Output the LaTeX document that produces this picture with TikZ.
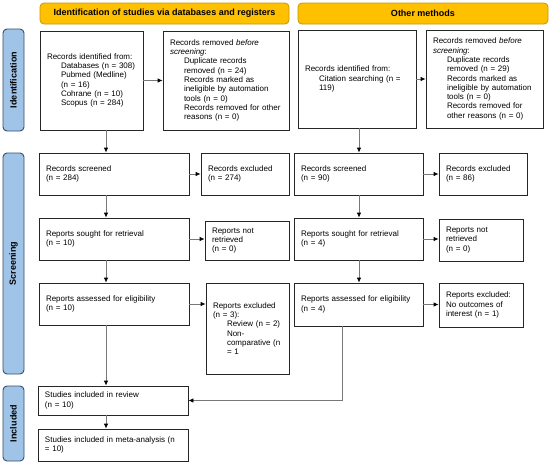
\documentclass[tikz,border=0pt]{standalone}
\usepackage{fontspec}
\setmainfont{Liberation Sans}
\usetikzlibrary{arrows.meta}
\definecolor{headfill}{RGB}{255,192,0}
\definecolor{headdraw}{RGB}{200,150,0}
\definecolor{sidefill}{RGB}{160,196,232}
\definecolor{sidedraw}{RGB}{52,78,108}
\definecolor{lineclr}{RGB}{120,120,120}
\newcommand{\myind}{\hspace*{14pt}}
\begin{document}
\begin{tikzpicture}[x=1pt,y=-1pt,
  box/.style={draw=black!85, line width=0.8pt, align=left, inner xsep=7pt, inner ysep=2pt,
    font=\fontsize{8}{9.3}\selectfont},
  head/.style={draw=headdraw, fill=headfill, line width=0.8pt, rounded corners=4pt,
    font=\fontsize{9}{10}\selectfont\bfseries, inner sep=0pt},
  side/.style={draw=sidedraw, fill=sidefill, line width=0.9pt, rounded corners=4pt, rotate=90,
    font=\fontsize{9}{10}\selectfont\bfseries, inner sep=0pt},
  conn/.style={draw=lineclr, line width=0.8pt, -{Latex[length=5pt,width=4.5pt,color=black]}}]
\useasboundingbox (0,0) rectangle (550,464);

% headers
\node[head, minimum width=249pt, minimum height=21pt] (HL) at (164.5,13.5) {Identification of studies via databases and registers};
\node[head, minimum width=250pt, minimum height=21pt] (HR) at (423,13.5) {Other methods};

% side labels
\node[side, minimum width=102pt, minimum height=21pt] (S1) at (13.5,80) {Identification};
\node[side, minimum width=221pt, minimum height=21pt] (S2) at (13.5,263.5) {Screening};
\node[side, minimum width=75pt, minimum height=21pt] (S3) at (13.5,423.5) {Included};

% identification
\node[box, minimum width=103pt, minimum height=99pt, text width=89pt] (A1) at (91.5,80.5)
  {Records identified from:\\ \myind Databases (n = 308)\\ \myind Pubmed (Medline)\\ \myind (n = 16)\\ \myind Cohrane (n = 10)\\ \myind Scopus (n = 284)};
\node[box, minimum width=126pt, minimum height=99pt, text width=112pt] (A2) at (226,80.5)
  {Records removed \textit{before}\\ \textit{screening}:\\ \myind Duplicate records\\ \myind removed (n = 24)\\ \myind Records marked as\\ \myind ineligible by automation\\ \myind tools (n = 0)\\ \myind Records removed for other\\ \myind reasons (n = 0)};
\node[box, minimum width=118pt, minimum height=98pt, text width=104pt] (B1) at (357,79)
  {Records identified from:\\ \myind Citation searching (n =\\ \myind 119)};
\node[box, minimum width=117pt, minimum height=98pt, text width=103pt] (B2) at (484.5,79)
  {Records removed \textit{before}\\ \textit{screening}:\\ \myind Duplicate records\\ \myind removed (n = 29)\\ \myind Records marked as\\ \myind ineligible by automation\\ \myind tools (n = 0)\\ \myind Records removed for\\ \myind other reasons (n = 0)};

% screening
\node[box, minimum width=150pt, minimum height=42pt, text width=136pt] (C1) at (114,174) {Records screened\\ (n = 284)};
\node[box, minimum width=88pt, minimum height=42pt, text width=74pt] (C2) at (245,174) {Records excluded\\ (n = 274)};
\node[box, minimum width=129pt, minimum height=42pt, text width=115pt] (D1) at (358.5,174) {Records screened\\ (n = 90)};
\node[box, minimum width=88pt, minimum height=42pt, text width=74pt] (D2) at (483,174) {Records excluded\\ (n = 86)};

\node[box, minimum width=150pt, minimum height=42pt, text width=136pt] (E1) at (114,239) {Reports sought for retrieval\\ (n = 10)};
\node[box, minimum width=84pt, minimum height=39pt, text width=70pt] (E2) at (247,240.5) {Reports not\\ retrieved\\ (n = 0)};
\node[box, minimum width=129pt, minimum height=42pt, text width=115pt] (F1) at (358.5,239) {Reports sought for retrieval\\ (n = 4)};
\node[box, minimum width=84pt, minimum height=42pt, text width=70pt] (F2) at (481,240) {Reports not\\ retrieved\\ (n = 0)};

\node[box, minimum width=150pt, minimum height=42pt, text width=136pt] (G1) at (114,304) {Reports assessed for eligibility\\ (n = 10)};
\node[box, minimum width=83pt, minimum height=91pt, text width=69pt] (G2) at (247.5,328.5)
  {Reports excluded\\ (n = 3):\\ \myind Review (n = 2)\\ \myind Non-\\ \myind comparative (n\\ \myind = 1};
\node[box, minimum width=129pt, minimum height=43pt, text width=115pt] (H1) at (358.5,304.5) {Reports assessed for eligibility\\ (n = 4)};
\node[box, minimum width=84pt, minimum height=44pt, text width=70pt] (H2) at (481,305) {Reports excluded:\\ No outcomes of\\ interest (n = 1)};

% included
\node[box, minimum width=150pt, minimum height=29pt, text width=136pt] (I1) at (113,400.5) {Studies included in review\\ (n = 10)};
\node[box, minimum width=150pt, minimum height=32pt, text width=136pt] (I2) at (113,445) {Studies included in meta-analysis (n\\ = 10)};

% connector columns
\coordinate (colL) at (106,0);
\coordinate (colR) at (359,0);
\coordinate (colB) at (342,0);

\draw[conn] (A1.south -| colL) -- (C1.north -| colL);
\draw[conn] (C1.south -| colL) -- (E1.north -| colL);
\draw[conn] (E1.south -| colL) -- (G1.north -| colL);
\draw[conn] (G1.south -| colL) -- (I1.north -| colL);
\draw[conn] (I1.south -| colL) -- (I2.north -| colL);

\draw[conn] (B1.south -| colR) -- (D1.north -| colR);
\draw[conn] (D1.south -| colR) -- (F1.north -| colR);
\draw[conn] (F1.south -| colR) -- (H1.north -| colR);

\draw[conn] (A1.east) -- (A1.east -| A2.west);
\draw[conn] (B1.east) -- (B1.east -| B2.west);
\draw[conn] (C1.east) -- (C1.east -| C2.west);
\draw[conn] (D1.east) -- (D1.east -| D2.west);
\draw[conn] (E1.east) -- (E1.east -| E2.west);
\draw[conn] (F1.east) -- (F1.east -| F2.west);
\draw[conn] (G1.east) -- (G1.east -| G2.west);
\draw[conn] (H1.east) -- (H1.east -| H2.west);

\draw[conn] (H1.south -| colB) |- (I1.east);
\end{tikzpicture}
\end{document}
